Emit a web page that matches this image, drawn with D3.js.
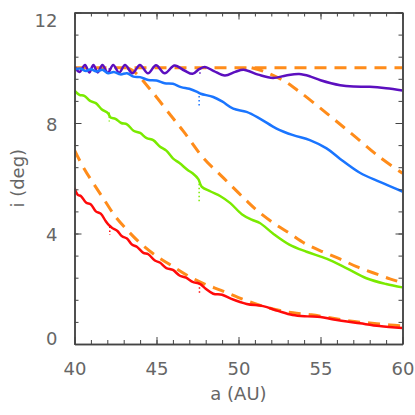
<!DOCTYPE html>
<html>
<head>
<meta charset="utf-8">
<script src="https://cdn.jsdelivr.net/npm/d3@7"></script>
<style>
  body { margin: 0; background: #fff; }
  svg { display: block; }
  .tick-label { font-family: "DejaVu Sans", sans-serif; font-size: 18px; fill: #666; }
</style>
</head>
<body>
<div id="chart"></div>
<script>
// ---- data: [a (AU), i (deg)] ----
const xTicks = [40, 45, 50, 55, 60];
const yTicks = [0, 4, 8, 12];

const purple = [[40.0, 10.05], [40.3, 9.85], [40.64, 10.1], [40.9, 9.83], [41.15, 10.1], [41.42, 9.83],
  [41.7, 10.1], [42.03, 9.82], [42.36, 10.1], [42.72, 9.82], [43.08, 10.1], [43.53, 9.8], [43.99, 10.1],
  [44.48, 9.8], [44.97, 10.09], [45.5, 9.8], [46.1, 10.08], [46.7, 9.9], [47.2, 9.78], [47.6, 9.95],
  [47.95, 10.03], [48.5, 9.88], [49.17, 9.72], [49.8, 9.85], [50.3, 9.93], [51.2, 9.75], [52.1, 9.63],
  [52.9, 9.72], [53.7, 9.77], [54.4, 9.68], [55.0, 9.55], [56.2, 9.37], [57.0, 9.32], [58.0, 9.31],
  [59.0, 9.26], [60, 9.18]];

const blue = [[40.0, 9.93], [40.35, 9.97], [40.7, 9.88], [41.0, 9.95], [41.35, 9.86], [41.7, 9.93],
  [42.05, 9.8], [42.4, 9.85], [42.8, 9.76], [43.2, 9.8], [43.6, 9.68], [44.0, 9.66], [44.5, 9.56],
  [45.0, 9.54], [45.5, 9.44], [46.0, 9.42], [46.5, 9.3], [47.0, 9.24], [47.5, 9.12], [47.7, 9.06],
  [48.46, 8.94], [49.0, 8.78], [49.68, 8.52], [50.49, 8.4], [51.3, 8.16], [52.32, 7.8], [53.33, 7.56],
  [54.35, 7.38], [55.37, 7.08], [56.18, 6.71], [57.4, 6.2], [58.62, 5.87], [60, 5.52]];

const green = [[40.0, 9.17], [40.3, 9.02], [40.6, 8.98], [40.95, 8.8], [41.3, 8.72], [41.65, 8.5],
  [42.05, 8.35], [42.2, 8.2], [42.5, 8.15], [42.85, 8.0], [43.2, 7.95], [43.6, 7.72], [44.0, 7.64],
  [44.4, 7.45], [44.8, 7.38], [45.2, 7.15], [45.6, 7.0], [46.0, 6.72], [46.4, 6.55], [46.9, 6.3],
  [47.2, 6.18], [47.55, 5.97], [47.75, 5.7], [48.3, 5.52], [48.9, 5.35], [49.5, 5.1], [50.2, 4.7],
  [50.8, 4.5], [51.3, 4.38], [52.1, 4.0], [53.1, 3.6], [54.15, 3.34], [55.4, 3.08], [56.6, 2.74],
  [57.8, 2.38], [59.0, 2.17], [60, 2.05]];

const red = [[40.0, 5.65], [40.2, 5.4], [40.4, 5.35], [40.7, 5.12], [41.0, 5.05], [41.3, 4.8],
  [41.6, 4.72], [41.9, 4.45], [42.1, 4.3], [42.3, 4.2], [42.6, 4.1], [42.9, 3.9], [43.2, 3.82],
  [43.5, 3.6], [43.8, 3.52], [44.2, 3.3], [44.5, 3.25], [44.9, 3.02], [45.2, 2.95], [45.6, 2.75],
  [46.0, 2.68], [46.4, 2.48], [46.8, 2.4], [47.2, 2.25], [47.55, 2.2], [47.72, 2.15], [48.0, 2.0],
  [48.46, 1.82], [49.0, 1.78], [49.5, 1.65], [50.5, 1.45], [51.5, 1.37], [52.4, 1.2], [53.3, 1.05],
  [54.2, 1.0], [55.0, 0.98], [55.8, 0.89], [57.4, 0.75], [58.6, 0.65], [60, 0.58]];

// small dotted jumps in each run: [a, i top, i bottom]
const purpleGlitch = [[42.12, 9.98, 9.8], [47.65, 9.98, 9.75]];
const blueGlitch = [[42.1, 9.85, 9.7], [47.6, 9.12, 8.6]];
const greenGlitch = [[42.12, 8.38, 8.05], [47.6, 5.95, 5.15]];
const redGlitch = [[42.15, 4.25, 3.95], [47.62, 2.2, 1.84]];

// orange dashed reference curves
const dashFlat = [[40, 10.0], [60, 10.0]];
const dashA = [[50.8, 10.0], [51.5, 9.88], [52.7, 9.55], [53.7, 9.14], [55.4, 8.34], [57.0, 7.56],
  [58.6, 6.77], [60, 6.18]];
const dashB = [[43.2, 10.0], [43.6, 9.88], [44.64, 9.2], [45.86, 8.28], [46.67, 7.68], [47.89, 6.71],
  [48.76, 6.2], [49.58, 5.72], [50.5, 5.18], [51.2, 4.8], [52.18, 4.36], [53.13, 4.0], [54.05, 3.64],
  [55.12, 3.34], [56.18, 3.08], [57.2, 2.8], [58.2, 2.58], [59.23, 2.36], [60, 2.22]];
const dashC = [[40, 7.02], [40.58, 6.35], [41.29, 5.69], [41.9, 5.14], [42.51, 4.6], [43.22, 4.12],
  [44.03, 3.64], [45.05, 3.16], [45.86, 2.86], [46.86, 2.49], [47.87, 2.19], [48.94, 1.94],
  [50.0, 1.68], [51.2, 1.42], [52.32, 1.24], [53.33, 1.13], [54.45, 1.06], [55.57, 0.95],
  [56.79, 0.83], [58.0, 0.76], [59.23, 0.69], [60, 0.65]];

const runs = [
  { pts: purple, glitch: purpleGlitch, color: "#5c0fbf" },
  { pts: blue, glitch: blueGlitch, color: "#1a75ff" },
  { pts: green, glitch: greenGlitch, color: "#7aea00" },
  { pts: red, glitch: redGlitch, color: "#ff0a0a" }
];
const dashed = [dashFlat, dashA, dashB, dashC];

// ---- layout ----
const W = 415, H = 415;
const margin = { top: 12.5, right: 12.5, bottom: 71, left: 74.5 };

const svg = d3.select("#chart").append("svg").attr("width", W).attr("height", H);

const x = d3.scaleLinear().domain([40, 60]).range([margin.left, W - margin.right]);
const y = d3.scaleLinear().domain([0, 12]).range([H - margin.bottom, margin.top]);

svg.append("clipPath").attr("id", "plot")
  .append("rect")
  .attr("x", x(40)).attr("y", y(12))
  .attr("width", x(60) - x(40)).attr("height", y(0) - y(12));

const plot = svg.append("g").attr("clip-path", "url(#plot)");

const line = d3.line()
  .x(d => x(d[0]))
  .y(d => y(d[1]))
  .curve(d3.curveCatmullRom.alpha(0.5));

// dashed curves first, solid runs on top
dashed.forEach(d => {
  plot.append("path")
    .datum(d)
    .attr("fill", "none")
    .attr("stroke", "#ff8c1a")
    .attr("stroke-width", 3)
    .attr("stroke-dasharray", "12,8")
    .attr("d", line);
});

runs.forEach(r => {
  plot.append("path")
    .datum(r.pts)
    .attr("fill", "none")
    .attr("stroke", r.color)
    .attr("stroke-width", 2.5)
    .attr("d", line);

  plot.selectAll(null)
    .data(r.glitch)
    .join("line")
    .attr("x1", d => x(d[0])).attr("x2", d => x(d[0]))
    .attr("y1", d => y(d[1])).attr("y2", d => y(d[2]))
    .attr("stroke", r.color)
    .attr("stroke-width", 1.5)
    .attr("stroke-dasharray", "1.5,2.5");
});

// ---- axes: box with inward ticks on all sides ----
const axisColor = "#444";
const minorX = d3.range(40, 60.01, 1);
const minorY = d3.range(0, 12.01, 0.8);

function styleAxis(g) {
  g.select(".domain").attr("stroke", axisColor).attr("stroke-width", 1.5);
  g.selectAll(".tick line").attr("stroke", axisColor).attr("stroke-width", 1);
}

// bottom
svg.append("g")
  .attr("transform", `translate(0,${y(0)})`)
  .call(d3.axisBottom(x).tickValues(minorX).tickSize(-4).tickFormat("").tickSizeOuter(0))
  .call(styleAxis);
svg.append("g")
  .attr("transform", `translate(0,${y(0)})`)
  .call(d3.axisBottom(x).tickValues(xTicks).tickSize(-7).tickPadding(18).tickSizeOuter(0))
  .call(styleAxis)
  .call(g => g.selectAll(".tick text").attr("class", "tick-label").attr("dy", "0.71em"));

// top
svg.append("g")
  .attr("transform", `translate(0,${y(12)})`)
  .call(d3.axisTop(x).tickValues(minorX).tickSize(-4).tickFormat("").tickSizeOuter(0))
  .call(styleAxis);
svg.append("g")
  .attr("transform", `translate(0,${y(12)})`)
  .call(d3.axisTop(x).tickValues(xTicks).tickSize(-7).tickFormat("").tickSizeOuter(0))
  .call(styleAxis);

// left
svg.append("g")
  .attr("transform", `translate(${x(40)},0)`)
  .call(d3.axisLeft(y).tickValues(minorY).tickSize(-4).tickFormat("").tickSizeOuter(0))
  .call(styleAxis);
svg.append("g")
  .attr("transform", `translate(${x(40)},0)`)
  .call(d3.axisLeft(y).tickValues(yTicks).tickSize(-7).tickPadding(17).tickSizeOuter(0))
  .call(styleAxis)
  .call(g => g.selectAll(".tick text")
    .attr("class", "tick-label")
    .attr("dy", d => d === 12 ? "0.75em" : d === 0 ? "0.05em" : "0.4em"));

// right
svg.append("g")
  .attr("transform", `translate(${x(60)},0)`)
  .call(d3.axisRight(y).tickValues(minorY).tickSize(-4).tickFormat("").tickSizeOuter(0))
  .call(styleAxis);
svg.append("g")
  .attr("transform", `translate(${x(60)},0)`)
  .call(d3.axisRight(y).tickValues(yTicks).tickSize(-7).tickFormat("").tickSizeOuter(0))
  .call(styleAxis);

// axis titles
svg.append("text")
  .attr("class", "tick-label")
  .attr("x", (x(40) + x(60)) / 2)
  .attr("y", 400)
  .attr("text-anchor", "middle")
  .text("a (AU)");

svg.append("text")
  .attr("class", "tick-label")
  .attr("transform", `translate(24,${(y(0) + y(12)) / 2}) rotate(-90)`)
  .attr("text-anchor", "middle")
  .text("i (deg)");
</script>
</body>
</html>
